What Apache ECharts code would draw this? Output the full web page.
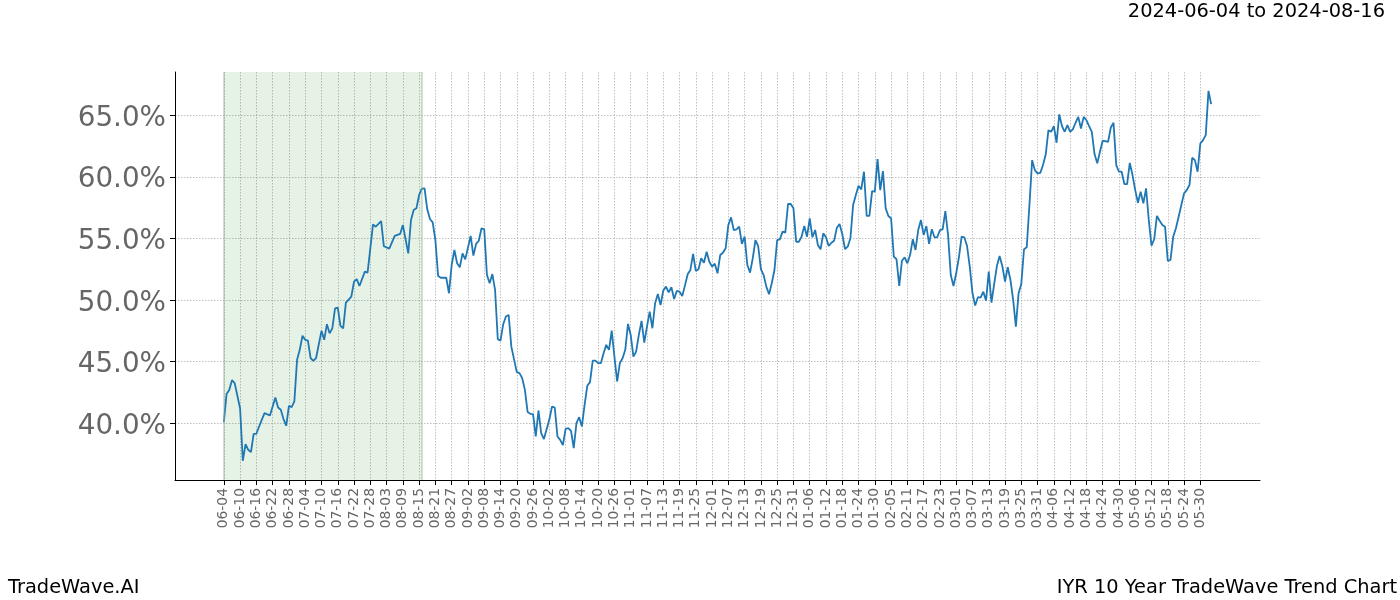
<!DOCTYPE html>
<html>
<head>
<meta charset="utf-8">
<script src="https://cdn.jsdelivr.net/npm/echarts@6/dist/echarts.min.js"></script>
<style>
html,body{margin:0;padding:0;background:#ffffff;}
#chart{width:1400px;height:600px;}
</style>
</head>
<body>
<div id="chart"></div>
<script>
// ---- data ----
const startDate = '2024-06-04';            // day 0 of the series
const rangeText = '2024-06-04 to 2024-08-16';
const brandText = 'TradeWave.AI';
const chartName = 'IYR 10 Year TradeWave Trend Chart';
const highlightDays = [0, 73];             // 2024-06-04 .. 2024-08-16
const axisDays = [-18, 382];               // axis span (days from start)
const tickStepDays = 6;
const tickDays = [0, 360];                 // first and last labelled day
const yTickValues = [40, 45, 50, 55, 60, 65];
const yRange = [35.4, 68.5];

// days from startDate
const days = [0,1,2,3,4,6,7,8,9,10,11,12,13,15,17,19,20,21,22,23,24,25,26,27,28,29,30,31,32,33,34,36,37,38,39,40,41,42,43,44,45,47,48,49,50,52,53,55,56,57,58,59,61,63,65,66,68,69,70,71,72,73,74,75,76,77,78,79,80,82,83,84,85,86,87,88,89,91,92,93,94,95,96,97,98,99,100,101,102,103,104,105,106,108,109,110,111,112,113,114,115,116,117,118,120,121,122,123,124,125,126,127,128,129,130,131,132,133,134,135,136,137,138,139,140,141,142,143,144,145,146,147,148,149,150,151,152,153,154,155,156,157,158,159,160,161,162,163,164,165,166,167,168,169,170,171,172,173,174,175,176,177,178,179,180,181,182,183,184,185,186,187,188,189,190,191,192,193,194,195,196,197,198,199,200,201,202,203,204,205,206,207,208,209,210,211,212,213,214,215,216,217,218,219,220,221,222,223,224,225,226,227,228,229,230,231,232,233,234,235,236,237,238,239,240,241,242,243,244,245,246,247,248,249,250,251,252,253,254,255,256,257,258,259,260,261,262,263,264,265,266,267,268,269,270,271,272,273,274,275,276,277,278,279,280,281,282,283,284,285,286,287,288,289,290,291,292,293,294,295,296,297,298,299,300,301,302,303,304,305,306,307,308,309,310,311,312,313,314,315,316,317,318,319,320,321,322,323,324,325,326,327,328,329,330,331,332,333,334,335,336,337,338,339,340,341,342,343,344,345,346,347,348,349,350,351,352,353,354,355,356,357,358,359,360,361,362,363,364];

// trend value in percent
const values = [40.1,42.37,42.7,43.5,43.26,41.2,36.96,38.3,37.85,37.66,39.15,39.15,39.74,40.83,40.63,42.09,41.28,41.1,40.34,39.8,41.42,41.31,41.77,45.15,45.96,47.1,46.77,46.7,45.28,45.06,45.28,47.5,46.77,48.04,47.3,47.7,49.33,49.38,47.9,47.7,49.79,50.28,51.49,51.69,51.14,52.3,52.22,56.14,55.95,56.17,56.4,54.36,54.17,55.2,55.36,56.09,53.79,56.49,57.3,57.44,58.52,59.03,59.06,57.36,56.57,56.3,54.87,51.95,51.81,51.81,50.55,52.84,54.06,52.98,52.66,53.79,53.3,55.2,53.6,54.55,54.81,55.82,55.74,52.03,51.36,52.11,50.82,46.82,46.71,48.04,48.66,48.79,46.22,44.15,44.07,43.66,42.71,40.91,40.77,40.75,38.93,41.04,39.2,38.72,40.3,41.36,41.28,38.93,38.66,38.23,39.55,39.61,39.39,37.99,40.02,40.5,39.74,41.5,43.04,43.34,45.09,45.09,44.88,44.88,45.69,46.36,45.96,47.52,45.41,43.39,44.88,45.28,45.96,48.06,47.17,45.41,45.82,47.17,48.31,46.55,47.84,49.06,47.71,49.74,50.49,49.6,50.76,51.09,50.63,51.04,50.09,50.74,50.68,50.33,51.17,52.09,52.44,53.74,52.36,52.5,53.39,53.03,53.92,53.11,52.71,52.95,52.17,53.65,53.84,54.2,56.09,56.71,55.68,55.74,55.95,54.55,55.14,52.84,52.22,53.39,54.87,54.38,52.5,52.03,51.09,50.47,51.36,52.44,54.87,54.93,55.55,55.47,57.79,57.79,57.44,54.73,54.73,55.14,56.0,55.14,56.63,55.09,55.68,54.47,54.12,55.41,55.09,54.38,54.65,54.81,55.87,56.17,55.36,54.14,54.33,55.01,57.71,58.52,59.27,58.98,60.41,56.82,56.82,58.84,58.79,61.43,58.92,60.46,57.44,56.82,56.63,53.52,53.31,51.14,53.19,53.47,52.98,53.65,54.93,54.06,55.68,56.49,55.28,56.0,54.55,55.74,55.09,55.09,55.68,55.74,57.22,55.28,52.03,51.14,52.17,53.47,55.14,55.09,54.38,52.71,50.55,49.55,50.23,50.19,50.68,49.95,52.3,49.79,51.3,52.76,53.57,52.76,51.49,52.66,51.63,50.01,47.84,50.55,51.3,54.12,54.28,57.71,61.35,60.54,60.27,60.32,60.95,61.8,63.78,63.65,64.11,62.76,65.06,64.11,63.65,64.19,63.65,63.84,64.38,64.86,63.92,64.86,64.59,64.11,63.65,61.84,61.09,62.03,62.92,62.89,62.84,64.0,64.38,60.95,60.41,60.41,59.41,59.41,61.13,60.14,58.92,57.89,58.78,57.84,59.06,56.49,54.41,54.93,56.82,56.43,56.09,55.95,53.17,53.25,55.14,55.82,56.76,57.71,58.65,58.92,59.33,61.54,61.35,60.41,62.7,62.97,63.38,66.97,65.89];

// ---- build categories (one per calendar day) ----
function dayToDate(d) {
  const t = new Date(startDate + 'T00:00:00Z');
  t.setUTCDate(t.getUTCDate() + d);
  return t.toISOString().slice(0, 10);
}
const categories = [];
for (let d = axisDays[0]; d <= axisDays[1]; d++) categories.push(dayToDate(d));
const seriesData = days.map((d, i) => [dayToDate(d), values[i]]);

function isTick(index) {
  const d = index + axisDays[0];
  return d >= tickDays[0] && d <= tickDays[1] && (d - tickDays[0]) % tickStepDays === 0;
}

const FONT = 'DejaVu Sans';
const gridLine = { color: '#b0b0b0', type: [1.5, 1.5], width: 0.8 };
const textStyleBase = { fontFamily: FONT, fontSize: 19.4, fill: '#000' };

const chart = echarts.init(document.getElementById('chart'), null, { renderer: 'canvas' });
chart.setOption({
  animation: false,
  backgroundColor: '#ffffff',
  textStyle: { fontFamily: FONT },
  graphic: [
    { type: 'text', x: 1385, y: 12, style: Object.assign({ text: rangeText, align: 'right', verticalAlign: 'middle' }, textStyleBase) },
    { type: 'text', x: 8, y: 588, style: Object.assign({ text: brandText, align: 'left', verticalAlign: 'middle' }, textStyleBase) },
    { type: 'text', x: 1397, y: 588, style: Object.assign({ text: chartName, align: 'right', verticalAlign: 'middle' }, textStyleBase) }
  ],
  grid: { left: 175, right: 140, top: 72, bottom: 120, containLabel: false },
  xAxis: {
    type: 'category',
    data: categories,
    boundaryGap: false,
    axisLine: { show: true, lineStyle: { color: '#000', width: 1 } },
    axisTick: { show: true, interval: isTick, length: 5, lineStyle: { color: '#000', width: 1 } },
    axisLabel: {
      show: true, interval: isTick, rotate: 90, margin: 8,
      fontFamily: FONT, fontSize: 13.9, color: '#666',
      formatter: v => v.slice(5)
    },
    splitLine: { show: true, interval: isTick, lineStyle: gridLine }
  },
  yAxis: {
    type: 'value',
    min: yRange[0], max: yRange[1],
    axisLine: { show: true, lineStyle: { color: '#000', width: 1 } },
    axisTick: { show: true, length: 5, customValues: yTickValues, lineStyle: { color: '#000', width: 1 } },
    axisLabel: {
      show: true, customValues: yTickValues, margin: 9,
      fontFamily: FONT, fontSize: 27.8, color: '#666',
      formatter: v => '{v|' + v.toFixed(1) + '%}',
      rich: {
        v: { fontFamily: FONT, fontSize: 27.8, color: '#666', padding: [7, 0, 0, 0] }
      }
    },
    splitLine: { show: true, lineStyle: gridLine }
  },
  series: [
    {
      type: 'line',
      data: [],
      silent: true,
      z: 1,
      markArea: {
        silent: true,
        itemStyle: { color: 'rgba(0,128,0,0.1)', borderWidth: 0 },
        data: [[{ xAxis: dayToDate(highlightDays[0]) }, { xAxis: dayToDate(highlightDays[1]) }]]
      },
      markLine: {
        silent: true,
        symbol: 'none',
        label: { show: false },
        lineStyle: { color: 'rgba(150,180,150,0.55)', type: 'solid', width: 1.5 },
        data: [{ xAxis: dayToDate(highlightDays[0]) }, { xAxis: dayToDate(highlightDays[1]) }]
      }
    },
    {
      type: 'line',
      data: seriesData,
      z: 3,
      showSymbol: false,
      symbol: 'none',
      smooth: false,
      lineStyle: { color: '#1f77b4', width: 1.8 },
      itemStyle: { color: '#1f77b4' }
    }
  ]
});
</script>
</body>
</html>
